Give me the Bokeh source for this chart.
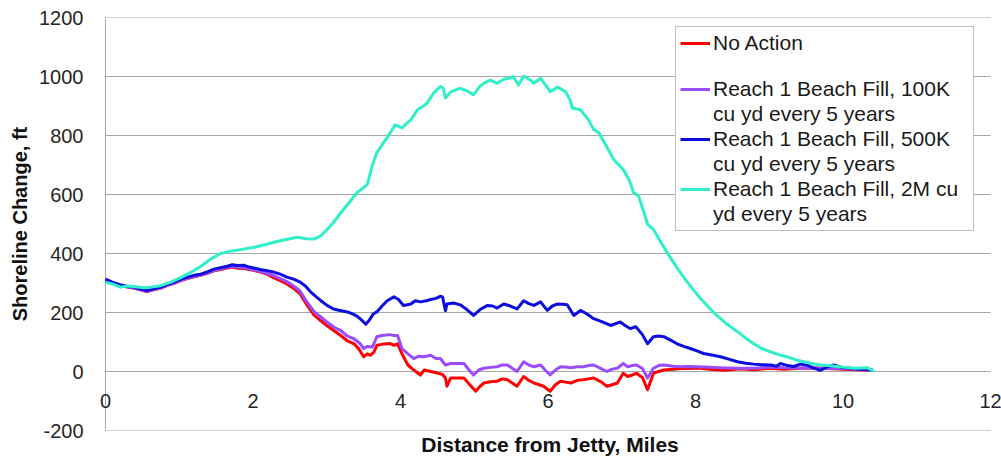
from bokeh.plotting import figure
from bokeh.models import Range1d, FixedTicker, Legend, LegendItem, Label
from bokeh.embed import file_html
from bokeh.resources import INLINE

# ---------------- data ----------------
series_names = [
    "No Action",
    "Reach 1 Beach Fill, 100K",
    "Reach 1 Beach Fill, 500K",
    "Reach 1 Beach Fill, 2M cu",
]
series_second_lines = [" ", "cu yd every 5 years", "cu yd every 5 years", "yd every 5 years"]

x_ticks = [0, 2, 4, 6, 8, 10, 12]
x_tick_labels = ["0", "2", "4", "6", "8", "10", "12"]
y_ticks = [-200, 0, 200, 400, 600, 800, 1000, 1200]
y_tick_labels = ["-200", "0", "200", "400", "600", "800", "1000", "1200"]

red_x = [0.0, 0.1, 0.2, 0.3, 0.38, 0.47, 0.56, 0.65, 0.75, 0.84, 0.93, 1.02, 1.11, 1.2, 1.29, 1.38, 1.47,
         1.56, 1.65, 1.72, 1.79, 1.88, 1.95, 2.01, 2.1, 2.19, 2.28, 2.37, 2.46, 2.55, 2.64, 2.72, 2.83,
         2.92, 3.0, 3.1, 3.19, 3.28, 3.37, 3.44, 3.5, 3.55, 3.59, 3.64, 3.68, 3.75, 3.85, 3.91, 3.96,
         4.03, 4.1, 4.18, 4.27, 4.32, 4.41, 4.5, 4.57, 4.61, 4.63, 4.68, 4.78, 4.86, 4.94, 5.02, 5.08,
         5.13, 5.22, 5.31, 5.38, 5.45, 5.52, 5.58, 5.67, 5.74, 5.81, 5.88, 5.94, 6.03, 6.1, 6.17, 6.24,
         6.31, 6.4, 6.48, 6.55, 6.62, 6.72, 6.8, 6.87, 6.94, 7.02, 7.08, 7.14, 7.2, 7.28, 7.35, 7.43,
         7.5, 7.57, 7.7, 7.8, 7.9, 8.03, 8.2, 8.4, 8.6, 8.8, 9.02, 9.2, 9.4, 9.6, 9.8, 10.0, 10.2, 10.4]
red_y = [310, 299, 291, 286, 283, 277, 271, 277, 283, 292, 299, 308, 315, 321, 326, 333, 341,
         346, 351, 354, 350, 349, 346, 343, 337, 330, 318, 308, 297, 282, 263, 230, 190,
         172, 156, 138, 122, 104, 94, 75, 50, 60, 55, 66, 89, 92, 95, 89, 94,
         55, 22, 5, -12, 5, 0, -5, -10, -22, -50, -22, -22, -22, -45, -67, -50,
         -39, -35, -33, -25, -28, -40, -50, -17, -30, -39, -45, -50, -67, -45, -33, -36,
         -39, -30, -28, -25, -22, -35, -50, -45, -39, -6, -17, -12, -6, -20, -62, -6,
         0, 5, 8, 10, 10, 12, 8, 4, 9, 6, 11, 8, 11, 12, 10, 8, 6, 4]

purple_x = [0.0, 0.1, 0.2, 0.3, 0.38, 0.47, 0.56, 0.65, 0.75, 0.84, 0.93, 1.02, 1.11, 1.2, 1.29, 1.38, 1.47,
            1.56, 1.65, 1.72, 1.79, 1.88, 1.95, 2.01, 2.1, 2.19, 2.28, 2.37, 2.46, 2.55, 2.64, 2.72, 2.83,
            2.92, 3.0, 3.1, 3.19, 3.28, 3.37, 3.45, 3.5, 3.55, 3.62, 3.68, 3.75, 3.85, 3.91, 3.96,
            4.02, 4.1, 4.18, 4.25, 4.32, 4.41, 4.48, 4.54, 4.61, 4.68, 4.78, 4.86, 4.93, 4.99, 5.06,
            5.13, 5.22, 5.31, 5.38, 5.45, 5.52, 5.58, 5.67, 5.74, 5.81, 5.9, 5.96, 6.03, 6.1, 6.17, 6.24,
            6.31, 6.4, 6.48, 6.55, 6.62, 6.72, 6.8, 6.87, 6.94, 7.02, 7.08, 7.14, 7.2, 7.28, 7.35, 7.43,
            7.5, 7.57, 7.7, 7.8, 7.9, 8.03, 8.2, 8.4, 8.6, 8.8, 9.02, 9.2, 9.4, 9.6, 9.8, 10.0, 10.2, 10.4]
purple_y = [310, 300, 292, 287, 284, 278, 272, 278, 284, 293, 300, 309, 316, 322, 327, 334, 342,
            348, 353, 357, 353, 352, 348, 345, 339, 333, 325, 315, 305, 290, 272, 240, 202,
            185, 168, 150, 139, 120, 111, 95, 78, 85, 83, 118, 122, 125, 122, 122,
            78, 60, 44, 52, 50, 55, 44, 44, 22, 27, 27, 27, 5, -12, 5,
            11, 14, 16, 22, 22, 10, 0, 33, 22, 16, 22, 5, -12, 5, 16, 15,
            13, 16, 16, 20, 22, 10, 0, 8, 11, 27, 16, 20, 22, 10, -22, 11,
            20, 22, 18, 16, 17, 16, 14, 12, 11, 11, 15, 13, 12, 12, 10, 10, 8, 5]

blue_x = [0.0, 0.1, 0.2, 0.3, 0.38, 0.47, 0.56, 0.65, 0.75, 0.84, 0.93, 1.02, 1.11, 1.2, 1.29, 1.38, 1.47,
          1.56, 1.65, 1.72, 1.79, 1.88, 1.95, 2.01, 2.1, 2.19, 2.28, 2.37, 2.46, 2.55, 2.64, 2.71, 2.78,
          2.85, 2.92, 3.0, 3.09, 3.18, 3.28, 3.35, 3.41, 3.47, 3.53, 3.58, 3.63, 3.68, 3.75, 3.82, 3.91,
          3.97, 4.04, 4.14, 4.2, 4.27, 4.35, 4.41, 4.48, 4.54, 4.57, 4.61, 4.63, 4.72, 4.81, 4.9, 4.99,
          5.08, 5.18, 5.25, 5.31, 5.4, 5.49, 5.58, 5.67, 5.74, 5.81, 5.9, 5.99, 6.06, 6.13, 6.2, 6.26,
          6.35, 6.44, 6.53, 6.62, 6.72, 6.85, 6.98, 7.05, 7.12, 7.19, 7.28, 7.35, 7.43, 7.5, 7.57, 7.65,
          7.75, 7.84, 7.93, 8.02, 8.11, 8.22, 8.34, 8.45, 8.57, 8.68, 8.79, 8.9, 9.02, 9.1, 9.15, 9.25,
          9.33, 9.42, 9.51, 9.6, 9.69, 9.78, 9.88, 9.98, 10.1, 10.2, 10.33, 10.4]
blue_y = [313, 302, 294, 288, 286, 280, 274, 280, 286, 295, 303, 312, 320, 326, 330, 338, 347,
          352, 357, 362, 359, 360, 354, 351, 346, 342, 337, 330, 320, 313, 303, 290, 270,
          255, 240, 225, 212, 207, 202, 195, 188, 175, 160, 175, 195, 202, 222, 240, 253,
          245, 224, 229, 240, 236, 240, 244, 248, 255, 253, 206, 229, 232, 226, 210, 190,
          210, 224, 222, 215, 229, 222, 212, 240, 230, 224, 236, 207, 222, 229, 228, 226,
          190, 207, 195, 179, 170, 156, 168, 155, 145, 152, 125, 94, 118, 120, 118, 108,
          94, 85, 78, 70, 61, 56, 50, 42, 33, 28, 25, 23, 22, 18, 27, 20,
          17, 25, 22, 12, 4, 15, 22, 14, 11, 8, 7, 5]

cyan_x = [0.0, 0.1, 0.2, 0.3, 0.4, 0.52, 0.62, 0.75, 0.88, 1.02, 1.15, 1.29, 1.42, 1.56, 1.7, 1.85,
          2.0, 2.2, 2.37, 2.5, 2.6, 2.72, 2.83, 2.92, 3.0, 3.09, 3.16, 3.23, 3.32, 3.41, 3.48, 3.55,
          3.62, 3.68, 3.77, 3.86, 3.93, 4.02, 4.08, 4.14, 4.23, 4.3, 4.36, 4.45, 4.54, 4.58, 4.61,
          4.68, 4.75, 4.81, 4.9, 4.99, 5.08, 5.15, 5.22, 5.31, 5.4, 5.48, 5.53, 5.6, 5.67, 5.75, 5.81,
          5.9, 6.0, 6.03, 6.13, 6.24, 6.3, 6.33, 6.44, 6.55, 6.62, 6.69, 6.8, 6.89, 7.02, 7.1, 7.16,
          7.23, 7.3, 7.35, 7.43, 7.55, 7.66, 7.78, 7.89, 8.0, 8.11, 8.2, 8.29, 8.43, 8.57, 8.68, 8.79,
          8.9, 9.02, 9.13, 9.24, 9.35, 9.47, 9.58, 9.69, 9.8, 9.92, 10.03, 10.15, 10.25, 10.33, 10.42]
cyan_y = [303, 296, 286, 290, 287, 284, 286, 291, 302, 318, 335, 356, 380, 400, 408, 414,
          420, 432, 443, 450, 455, 450, 449, 460, 480, 505, 528, 550, 578, 606, 620, 634,
          700, 742, 775, 809, 836, 826, 840, 853, 887, 898, 910, 944, 966, 960, 927,
          948, 955, 960, 952, 938, 968, 980, 988, 977, 991, 995, 999, 971, 1001, 990, 977,
          994, 960, 948, 964, 948, 920, 893, 887, 853, 820, 809, 760, 719, 685, 650, 607,
          594, 540, 499, 482, 430, 386, 340, 303, 268, 236, 212, 190, 160, 135, 113, 94,
          78, 66, 57, 50, 40, 33, 27, 22, 20, 17, 14, 11, 12, 13, 0]

series_x = [red_x, purple_x, blue_x, cyan_x]
series_y = [red_y, purple_y, blue_y, cyan_y]
series_colors = ["#ff0000", "#9a4cff", "#0d0de0", "#2ff0c8"]

# ---------------- figure ----------------
FONT = "Liberation Sans"
GRID = "#a6a6a6"
# frame reaches a little past x = 0 and x = 12 so the edge tick labels are not clipped;
# the axis line and gridlines are drawn from x = 0 to x = 12 only.
PX_PER_UNIT = 885 / 12.0
p = figure(width=1001, height=458,
           x_range=Range1d(x_ticks[0] - 7 / PX_PER_UNIT, x_ticks[-1] + 11 / PX_PER_UNIT),
           y_range=Range1d(y_ticks[0], y_ticks[-1]),
           output_backend="svg", toolbar_location=None,
           min_border_left=98, min_border_right=0, min_border_top=17, min_border_bottom=26)
p.background_fill_color = "white"
p.border_fill_color = "white"
p.outline_line_color = None

p.xgrid.visible = False
p.ygrid.visible = False

# horizontal gridlines and the left axis line, spanning the data extent
n = len(y_ticks)
p.segment(x0=[x_ticks[0]] * n, x1=[x_ticks[-1]] * n, y0=y_ticks, y1=y_ticks,
          line_color=GRID, line_width=1)
p.segment(x0=[x_ticks[0]], x1=[x_ticks[0]], y0=[y_ticks[0]], y1=[y_ticks[-1]],
          line_color=GRID, line_width=1)

p.yaxis.ticker = FixedTicker(ticks=y_ticks)
p.yaxis.major_label_overrides = {t: s for t, s in zip(y_ticks, y_tick_labels)}
p.yaxis.axis_line_color = None
p.yaxis.major_tick_out = 0
p.yaxis.major_tick_in = 0
p.yaxis.minor_tick_out = 0
p.yaxis.minor_tick_in = 0
p.yaxis.major_label_standoff = 15
p.yaxis.major_label_text_font = FONT
p.yaxis.major_label_text_font_size = "20px"
p.yaxis.major_label_text_color = "#262626"
p.yaxis.axis_label = "Shoreline Change, ft"
p.yaxis.axis_label_text_font = FONT
p.yaxis.axis_label_text_font_style = "bold"
p.yaxis.axis_label_text_font_size = "20px"
p.yaxis.axis_label_text_color = "#111111"
p.yaxis.axis_label_standoff = 5

# x axis below the frame carries only the title
xa = p.xaxis[0]
xa.ticker = FixedTicker(ticks=[])
xa.major_label_standoff = 0
xa.major_tick_out = 0
xa.major_tick_in = 0
xa.minor_tick_out = 0
xa.minor_tick_in = 0
xa.axis_line_color = None
xa.axis_label = "Distance from Jetty, Miles"
xa.axis_label_standoff = 2
xa.axis_label_text_font = FONT
xa.axis_label_text_font_style = "bold"
xa.axis_label_text_font_size = "21px"
xa.axis_label_text_color = "#111111"

# x tick labels sit just under the y = 0 line
for t, s in zip(x_ticks, x_tick_labels):
    p.add_layout(Label(x=t, y=0, text=s, text_align="center", text_baseline="top",
                       y_offset=-22, text_font=FONT, text_font_size="20px",
                       text_color="#262626"))

renderers = []
for xs, ys, c in zip(series_x, series_y, series_colors):
    r = p.line(xs, ys, line_color=c, line_width=3, line_join="round")
    renderers.append(r)

dummy = p.line([], [], line_alpha=0)

items = []
for name, second, r in zip(series_names, series_second_lines, renderers):
    items.append(LegendItem(label=name, renderers=[r]))
    items.append(LegendItem(label=second, renderers=[dummy]))

legend = Legend(items=items, location=(577, 199), margin=0, padding=4, spacing=1,
                glyph_width=30, glyph_height=20, label_height=20, label_width=256,
                label_standoff=3,
                label_text_font=FONT, label_text_font_size="21px", label_text_color="#1a1a1a",
                border_line_color="#808080", border_line_width=1, background_fill_color="white",
                background_fill_alpha=1.0)
p.add_layout(legend)

open("out.html", "w").write(file_html(p, INLINE))
